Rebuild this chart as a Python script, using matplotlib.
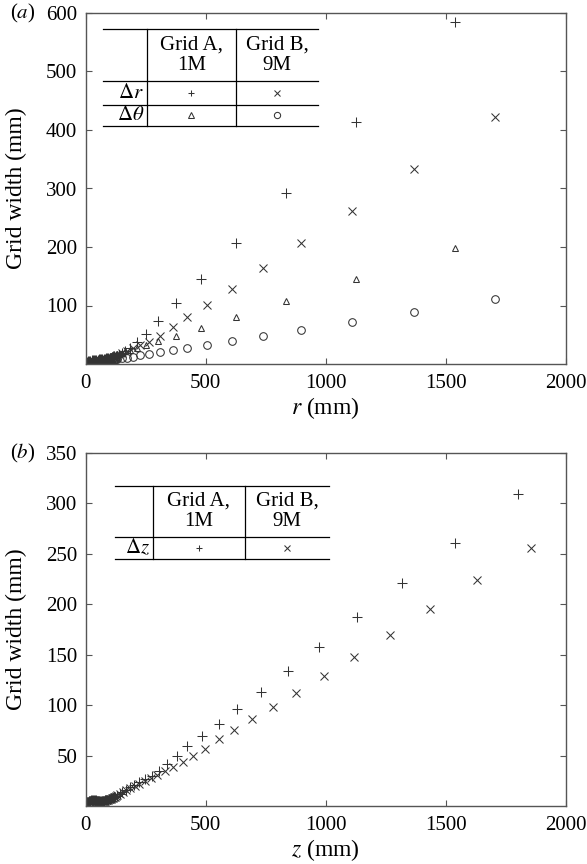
import numpy as np
import matplotlib
matplotlib.use("Agg")
import matplotlib.pyplot as plt

plt.rcParams['font.family'] = ['Liberation Serif', 'DejaVu Serif']
plt.rcParams['mathtext.fontset'] = 'stix'

# ---- panel (a): radial grid widths ----
r_a = [1540, 1125, 834, 626, 480, 376, 301, 250, 213, 186, 166, 150, 138,
       130, 125, 120, 115, 110, 105, 100, 95, 90, 85, 80, 75, 70, 65, 60, 55,
       50, 45, 40, 35, 30, 25, 20, 15, 10, 5]
dr_a = [584, 414, 293, 206, 146, 104, 74, 51, 38, 28, 22, 18, 15,
        14, 13, 13, 12, 12, 11, 11, 10, 10, 10, 9, 9, 9, 8, 8, 8,
        7, 7, 7, 6, 6, 6, 5, 5, 5, 4]
dth_a = [199, 146, 108, 81, 62, 48, 39, 32, 27.5, 24, 21.4, 19.4, 17.8,
         16.8, 16.1, 15.5, 14.8, 14.2, 13.5, 12.9, 12.3, 11.6, 11.0, 10.3, 9.7, 9.0, 8.4, 7.7, 7.1,
         6.5, 5.8, 5.2, 4.5, 3.9, 3.2, 2.6, 1.9, 1.3, 0.6]

r_b = [1703, 1368, 1109, 899, 737, 608, 504, 424, 363, 310, 265, 228, 197, 171, 150, 132,
       127, 122, 117, 112, 107, 102, 97, 92, 87, 82, 77, 72, 67, 62, 57, 52,
       47, 42, 37, 32, 27, 22, 17, 12, 7]
dr_b = [423, 333, 262, 206, 164, 129, 101, 80, 63, 48, 38, 33, 28, 23, 19, 15,
        13, 12, 11, 11, 10, 10, 9, 9, 8, 8, 8, 7, 7, 7, 6, 6,
        6, 5, 5, 5, 4, 4, 4, 3, 3]
dth_b = [111, 89, 72, 58, 48, 40, 32, 28, 24, 20, 17.2, 14.8, 12.8, 11.1, 9.8, 8.6,
         8.3, 7.9, 7.6, 7.3, 7.0, 6.6, 6.3, 6.0, 5.7, 5.3, 5.0, 4.7, 4.4, 4.0, 3.7, 3.4,
         3.1, 2.7, 2.4, 2.1, 1.8, 1.4, 1.1, 0.8, 0.5]

# ---- panel (b): axial grid widths ----
z_a = [1800, 1540, 1318, 1131, 973, 841, 730, 632, 554, 485, 424, 379, 338, 305,
       275, 248, 224, 203, 184, 168, 154, 142, 132,
       124, 120, 116, 112, 108, 104, 100, 96, 92, 88, 84, 80, 76, 72, 68, 64,
       60, 56, 52, 48, 44, 40, 36, 32, 28, 24, 20, 16, 12, 8, 4]
dz_a = [309, 261, 221, 187, 158, 134, 113, 96, 81, 69, 59, 50, 42, 35,
        30, 27, 24, 21, 19, 16, 14, 12, 10,
        9, 9, 8, 8, 8, 7, 7, 7, 6, 6, 6, 6, 5, 5, 5, 5,
        5, 5, 5, 5, 6, 6, 6, 6, 6, 6, 5, 5, 4, 4, 3]
z_b = [1853, 1630, 1436, 1267, 1118, 992, 878, 779, 695, 618, 555, 497, 448, 404,
       365, 330, 299, 271, 246, 224, 204, 186, 170, 156, 144, 133,
       126, 122, 118, 114, 110, 106, 102, 98, 94, 90, 86, 82, 78, 74, 70, 66,
       62, 58, 54, 50, 46, 42, 38, 34, 30, 26, 22, 18, 14, 10, 6, 2]
dz_b = [256, 224, 195, 170, 148, 129, 112, 98, 86, 75, 66, 57, 50, 44,
        39, 35, 31, 28, 25, 22, 20, 18, 16, 14, 12, 11,
        10, 9, 9, 8, 8, 7, 7, 7, 6, 6, 6, 5, 5, 5, 5, 4,
        4, 4, 4, 5, 5, 5, 6, 6, 6, 5, 5, 4, 4, 3, 3, 2]

mc = '#333333'
W, H = 587, 864
fig = plt.figure(figsize=(W / 100, H / 100), dpi=100)

def px_axes(left, top, right, bottom):
    return fig.add_axes([left / W, 1 - bottom / H, (right - left) / W, (bottom - top) / H])

ax1 = px_axes(85.5, 13, 566, 364)
ax2 = px_axes(85.5, 453, 566, 806)

kw = dict(linestyle='none', color=mc, markerfacecolor='none', markeredgewidth=0.75)
ax1.plot(r_a, dr_a, marker='+', markersize=7, **kw)
ax1.plot(r_b, dr_b, marker='x', markersize=6, **kw)
ax1.plot(r_a, dth_a, marker='^', markersize=5, **kw)
ax1.plot(r_b, dth_b, marker='o', markersize=5.5, **kw)

ax2.plot(z_a, dz_a, marker='+', markersize=7, **kw)
ax2.plot(z_b, dz_b, marker='x', markersize=6, **kw)

for ax, ymax, yt in [(ax1, 600, [100, 200, 300, 400, 500, 600]),
                     (ax2, 350, [50, 100, 150, 200, 250, 300, 350])]:
    ax.set_xlim(0, 2000)
    ax.set_ylim(0, ymax)
    ax.set_xticks([0, 500, 1000, 1500, 2000])
    ax.set_yticks(yt)
    ax.tick_params(direction='in', top=True, right=True, length=4, width=0.8,
                   color='#555555', labelsize=15)
    ax.tick_params(axis='x', pad=7)
    ax.tick_params(axis='y', pad=6)
    for s in ax.spines.values():
        s.set_color('#555555')
        s.set_linewidth(1.0)
    ax.set_ylabel('Grid width (mm)', fontsize=17)
    ax.yaxis.set_label_coords(-0.122, 0.5)

ax1.set_xlabel('$r$ (mm)', fontsize=17)
ax2.set_xlabel('$z$ (mm)', fontsize=17)
ax1.xaxis.set_label_coords(0.5, -0.088)
ax2.xaxis.set_label_coords(0.5, -0.088)

ax1.text(-0.157, 1.0, '($a$)', transform=ax1.transAxes, fontsize=15, ha='left', va='center')
ax2.text(-0.157, 1.0, '($b$)', transform=ax2.transAxes, fontsize=15, ha='left', va='center')

def draw_table(ax, xs, ys, rows):
    # xs: left, div1, div2, right ; ys: top, header line, row lines...
    t = ax.transAxes
    for y in ys:
        ax.plot([xs[0], xs[3]], [y, y], color='black', lw=0.9, transform=t, clip_on=False)
    for x in xs[1:3]:
        ax.plot([x, x], [ys[0], ys[-1]], color='black', lw=0.9, transform=t, clip_on=False)
    c1 = (xs[1] + xs[2]) / 2
    c2 = (xs[2] + xs[3]) / 2
    hy = (ys[0] + ys[1]) / 2
    ax.text(c1, hy, 'Grid A,\n1M', transform=t, ha='center', va='center',
            fontsize=15, linespacing=1.1)
    ax.text(c2, hy, 'Grid B,\n9M', transform=t, ha='center', va='center',
            fontsize=15, linespacing=1.1)
    for i, (lab, m1, m2) in enumerate(rows):
        yc = (ys[i + 1] + ys[i + 2]) / 2
        ax.text(xs[1] - 0.006, yc, lab, transform=t, ha='right', va='center', fontsize=15)
        ax.plot([c1], [yc], marker=m1, markersize=4.5, transform=t, **kw)
        ax.plot([c2], [yc], marker=m2, markersize=4.5, transform=t, **kw)

draw_table(ax1, [0.0364, 0.128, 0.313, 0.484], [0.954, 0.806, 0.738, 0.678],
           [(r'$\Delta r$', '+', 'x'), (r'$\Delta \theta$', '^', 'o')])
draw_table(ax2, [0.061, 0.140, 0.332, 0.507], [0.9065, 0.763, 0.699],
           [(r'$\Delta z$', '+', 'x')])

fig.savefig('out.png', dpi=100)
